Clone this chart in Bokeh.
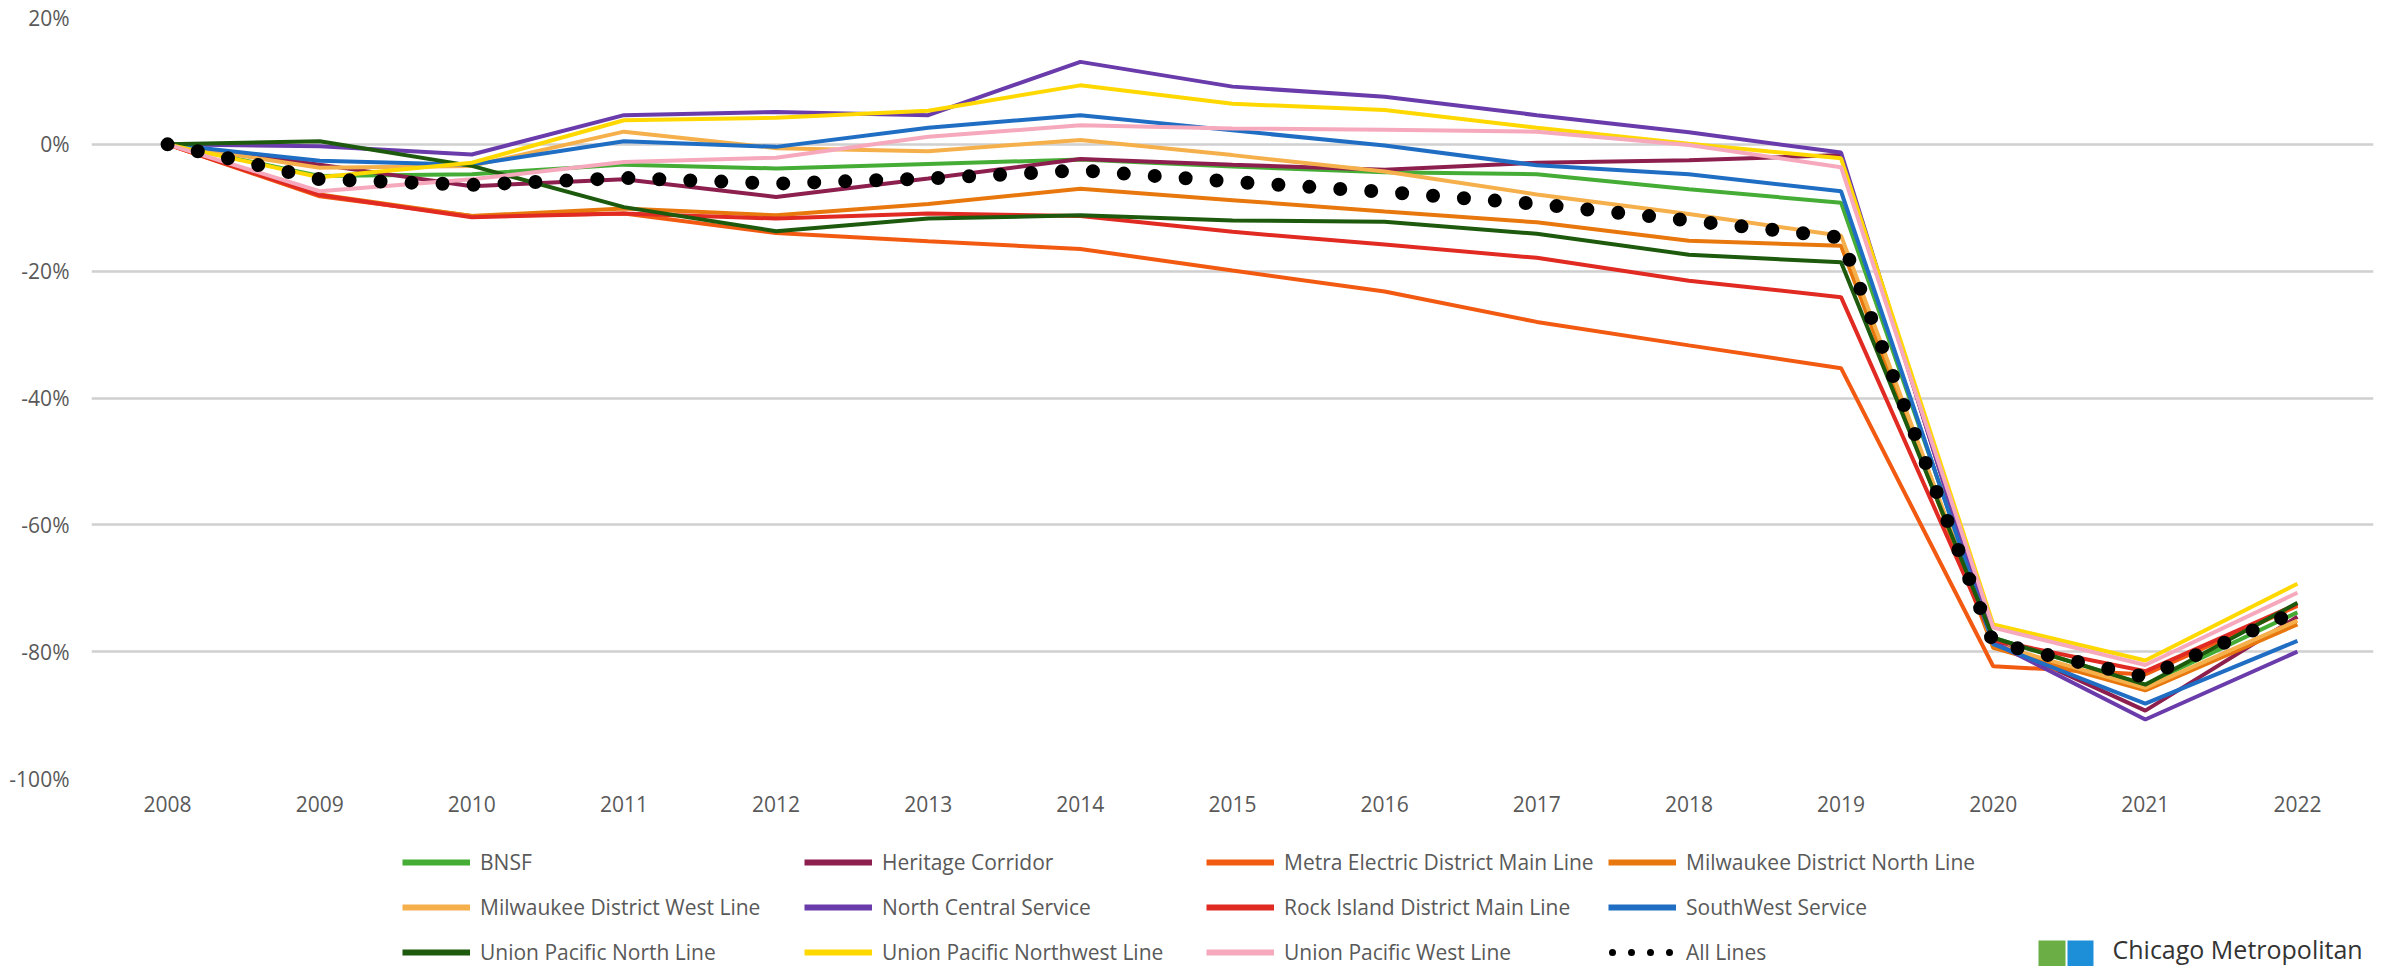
from bokeh.plotting import figure
from bokeh.layouts import column
from bokeh.models import (Legend, LegendItem, FixedTicker, PrintfTickFormatter,
                          Label, BoxAnnotation, Range1d)
from bokeh.embed import file_html
from bokeh.resources import INLINE

years = [2008, 2009, 2010, 2011, 2012, 2013, 2014, 2015, 2016, 2017, 2018, 2019, 2020, 2021, 2022]

bnsf = [0, -5.0, -4.7, -3.2, -3.8, -3.1, -2.4, -3.5, -4.4, -4.7, -7.1, -9.2, -77.8, -85.2, -73.8]
heritage = [0, -3.2, -6.6, -5.5, -8.3, -5.4, -2.3, -3.2, -4.0, -2.9, -2.5, -1.7, -78.3, -89.3, -74.5]
metra_electric = [0, -8.2, -11.3, -10.9, -14.0, -15.3, -16.5, -19.9, -23.2, -28.0, -31.7, -35.3, -82.3, -83.6, -72.8]
md_north = [0, -7.9, -11.3, -10.1, -11.2, -9.4, -7.0, -8.8, -10.6, -12.3, -15.2, -16.0, -79.4, -86.1, -75.7]
md_west = [0, -3.7, -3.4, 2.0, -0.6, -1.1, 0.7, -1.7, -4.3, -7.9, -11.0, -14.4, -78.8, -85.7, -75.1]
north_central = [0, -0.3, -1.6, 4.6, 5.1, 4.6, 13.0, 9.1, 7.5, 4.6, 1.9, -1.3, -78.5, -90.7, -80.0]
rock_island = [0, -8.0, -11.5, -10.9, -11.7, -10.9, -11.3, -13.8, -15.8, -17.9, -21.5, -24.1, -78.2, -83.1, -72.5]
southwest = [0, -2.6, -3.2, 0.5, -0.4, 2.6, 4.6, 2.2, -0.2, -3.3, -4.7, -7.4, -78.8, -88.2, -78.3]
up_north = [0, 0.5, -3.4, -9.9, -13.7, -11.7, -11.2, -12.0, -12.2, -14.1, -17.4, -18.6, -77.8, -85.2, -72.3]
up_northwest = [0, -5.2, -2.9, 3.8, 4.2, 5.3, 9.3, 6.4, 5.4, 2.6, 0.1, -2.2, -75.7, -81.4, -69.3]
up_west = [0, -7.4, -5.5, -2.8, -2.1, 1.2, 3.0, 2.5, 2.3, 2.0, -0.1, -3.6, -76.2, -82.1, -70.7]
all_lines = [0, -5.5, -6.4, -5.3, -6.2, -5.4, -4.1, -5.9, -7.5, -9.4, -12.0, -14.7, -78.6, -84.0, -73.6]

names = ["BNSF", "Heritage Corridor", "Metra Electric District Main Line",
         "Milwaukee District North Line", "Milwaukee District West Line",
         "North Central Service", "Rock Island District Main Line", "SouthWest Service",
         "Union Pacific North Line", "Union Pacific Northwest Line", "Union Pacific West Line"]
series = [bnsf, heritage, metra_electric, md_north, md_west, north_central,
          rock_island, southwest, up_north, up_northwest, up_west]
colors = ["#45AD35", "#8C1F4E", "#F25A12", "#E8780E", "#F5B04C", "#6A3CAB",
          "#E02A22", "#1F6EC4", "#1D5A0D", "#FFD800", "#F6A9BC"]
y_ticks = [-100, -80, -60, -40, -20, 0, 20]

FONT = "Open Sans"
TXT = "#595959"
W = 2390
H_MAIN = 828
H_LEG = 138
NAN = float("nan")

p = figure(width=W, height=H_MAIN, output_backend="svg", toolbar_location=None,
           x_range=Range1d(2007.5, 2022.5), y_range=Range1d(-100, 20),
           min_border_left=91, min_border_right=17, min_border_top=17,
           min_border_bottom=50)
p.outline_line_color = None
p.xgrid.grid_line_color = None
p.ygrid.grid_line_color = "#D0D0D0"
p.ygrid.grid_line_width = 2.5

p.yaxis.ticker = FixedTicker(ticks=y_ticks)
p.yaxis.formatter = PrintfTickFormatter(format="%d%%")
p.xaxis.ticker = FixedTicker(ticks=years)
p.xaxis.formatter = PrintfTickFormatter(format="%d")
for ax in (p.xaxis[0], p.yaxis[0]):
    ax.axis_line_color = None
    ax.major_tick_line_color = None
    ax.minor_tick_line_color = None
    ax.major_tick_out = 0
    ax.major_tick_in = 0
    ax.major_label_text_font = FONT
    ax.major_label_text_font_size = "21px"
    ax.major_label_text_color = TXT
p.yaxis.major_label_standoff = 22
p.xaxis.major_label_standoff = 17

for vals, col in zip(series, colors):
    p.line(years, vals, line_width=4, color=col)
p.line(years, all_lines, line_width=14, color="black", line_dash="0 31", line_cap="round")

# legend / footer strip (its frame is aligned with the main frame: page x 91..2373)
p2 = figure(width=W, height=H_LEG, output_backend="svg", toolbar_location=None,
            x_range=Range1d(91, 2373), y_range=Range1d(0, H_LEG),
            x_axis_type=None, y_axis_type=None,
            min_border_left=91, min_border_right=17, min_border_top=0, min_border_bottom=0)
p2.outline_line_color = None
p2.grid.visible = False

items = []
for name, col in zip(names, colors):
    r = p2.line(x=[NAN], y=[NAN], line_width=6, color=col)
    items.append(LegendItem(label=name, renderers=[r]))
r_all = p2.line(x=[NAN], y=[NAN], line_width=7, color="black", line_dash="0 19",
                line_dash_offset=-4, line_cap="round")
items.append(LegendItem(label="All Lines", renderers=[r_all]))

legend = Legend(items=items, orientation="horizontal", ncols=4, location=(311, -3),
                glyph_width=68, glyph_height=34, label_standoff=10, label_width=313,
                label_height=34, spacing=11, padding=0, margin=0,
                border_line_alpha=0, background_fill_alpha=0,
                label_text_font=FONT, label_text_font_size="21px", label_text_color=TXT)
p2.add_layout(legend, "center")

p2.add_layout(BoxAnnotation(left=2038, right=2065, top=26, bottom=0,
                            fill_color="#6AAE45", fill_alpha=1, line_color=None))
p2.add_layout(BoxAnnotation(left=2067, right=2093, top=26, bottom=0,
                            fill_color="#1C8FD8", fill_alpha=1, line_color=None))
p2.add_layout(Label(x=2112, y=1, text="Chicago Metropolitan", text_font=FONT,
                    text_font_size="25px", text_color="#333333", text_baseline="bottom"))

open("out.html", "w").write(file_html(column(p, p2, spacing=0), INLINE))
